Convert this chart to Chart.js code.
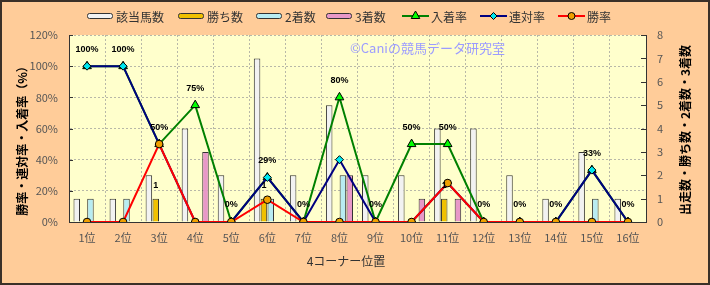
<!DOCTYPE html>
<html lang="ja">
<head>
<meta charset="utf-8">
<title>4コーナー位置別成績</title>
<script src="https://cdn.jsdelivr.net/npm/chart.js@4.4.0/dist/chart.umd.min.js"></script>
<style>
  html, body { margin: 0; padding: 0; background: #ffcc99; }
  #wrap { width: 710px; height: 285px; }
</style>
</head>
<body>
<div id="wrap"><canvas id="cornerChart" width="710" height="285"></canvas></div>
<script>
// Data
const positions = ["1位", "2位", "3位", "4位", "5位", "6位", "7位", "8位",
                   "9位", "10位", "11位", "12位", "13位", "14位", "15位", "16位"];
const runners = [1, 1, 2, 4, 2, 7, 2, 5, 2, 2, 4, 4, 2, 1, 3, 1];   // 該当馬数
const wins    = [0, 0, 1, 0, 0, 1, 0, 0, 0, 0, 1, 0, 0, 0, 0, 0];   // 勝ち数
const seconds = [1, 1, 0, 0, 0, 1, 0, 2, 0, 0, 0, 0, 0, 0, 1, 0];   // 2着数
const thirds  = [0, 0, 0, 3, 0, 0, 0, 2, 0, 1, 1, 0, 0, 0, 0, 0];   // 3着数
const placeRate = [100, 100, 50, 75, 0, 28.6, 0, 80, 0, 50, 50, 0, 0, 0, 33.3, 0];  // 入着率
const quinRate  = [100, 100, 50, 0, 0, 28.6, 0, 40, 0, 0, 25, 0, 0, 0, 33.3, 0];   // 連対率
const winRate   = [0, 0, 50, 0, 0, 14.3, 0, 0, 0, 0, 25, 0, 0, 0, 0, 0];           // 勝率
const rateTicks = [0, 20, 40, 60, 80, 100, 120];
const countTicks = [0, 1, 2, 3, 4, 5, 6, 7, 8];

const jpFont = "'Noto Sans CJK JP', 'Noto Sans', sans-serif";

// Colours
const runnerColor = "#f2f2f2";
const winColor = "#f0c000";
const secondColor = "#b8ecf2";
const thirdColor = "#e898c8";
const placeColor = "#008000";
const quinColor = "#000080";
const winLineColor = "#ff0000";

// Legend layout (x positions of each marker)
const legendItems = [
    { label: "該当馬数", kind: "box", color: runnerColor, x: 87 },
    { label: "勝ち数", kind: "box", color: winColor, x: 178 },
    { label: "2着数", kind: "box", color: secondColor, x: 256 },
    { label: "3着数", kind: "box", color: thirdColor, x: 326 },
    { label: "入着率", kind: "line", color: placeColor, point: "triangle", pointColor: "#00ff00", x: 402 },
    { label: "連対率", kind: "line", color: quinColor, point: "diamond", pointColor: "#00e8f0", x: 480 },
    { label: "勝率", kind: "line", color: winLineColor, point: "circle", pointColor: "#f0a000", x: 558 }
];

function drawMarker(ctx, type, x, y, fill) {
    ctx.save();
    ctx.fillStyle = fill;
    ctx.strokeStyle = "#000";
    ctx.lineWidth = 1;
    ctx.beginPath();
    if (type === "triangle") {
        ctx.moveTo(x, y - 5);
        ctx.lineTo(x + 4.3, y + 2.5);
        ctx.lineTo(x - 4.3, y + 2.5);
        ctx.closePath();
    } else if (type === "diamond") {
        ctx.moveTo(x, y - 3.5);
        ctx.lineTo(x + 3.5, y);
        ctx.lineTo(x, y + 3.5);
        ctx.lineTo(x - 3.5, y);
        ctx.closePath();
    } else {
        ctx.arc(x, y, 3.5, 0, Math.PI * 2);
    }
    ctx.fill();
    ctx.stroke();
    ctx.restore();
}

const decorPlugin = {
    id: "decor",
    beforeDraw(chart) {
        const { ctx, chartArea } = chart;
        ctx.save();
        ctx.fillStyle = "#ffcc99";
        ctx.fillRect(0, 0, chart.width, chart.height);
        ctx.fillStyle = "#ffffcc";
        ctx.fillRect(chartArea.left, chartArea.top, chartArea.right - chartArea.left, chartArea.bottom - chartArea.top);
        ctx.restore();
    },
    beforeDatasetsDraw(chart) {
        const { ctx } = chart;
        ctx.save();
        ctx.font = "13px " + jpFont;
        ctx.fillStyle = "#9c9cff";
        ctx.textAlign = "left";
        ctx.textBaseline = "middle";
        ctx.fillText("©Caniの競馬データ研究室", 350, 48);
        ctx.restore();
    },
    afterDatasetsDraw(chart) {
        const { ctx } = chart;
        ctx.save();
        ctx.fillStyle = "#000";
        ctx.textAlign = "center";
        ctx.textBaseline = "middle";
        ctx.font = "bold 9px 'Liberation Sans', Arial, sans-serif";
        // win count labels above the gold bars
        chart.getDatasetMeta(1).data.forEach((bar, i) => {
            if (wins[i] > 0) ctx.fillText(String(wins[i]), bar.x, bar.y - 13);
        });
        // place-rate labels above the green points
        chart.getDatasetMeta(4).data.forEach((pt, i) => {
            ctx.fillText(Math.round(placeRate[i]) + "%", pt.x, pt.y - 17);
        });
        ctx.restore();
    },
    afterDraw(chart) {
        const { ctx, chartArea } = chart;
        const yCount = chart.scales.yCount;
        const yRate = chart.scales.yRate;
        ctx.save();

        // small inward tick marks
        ctx.strokeStyle = "#333";
        ctx.lineWidth = 1;
        ctx.beginPath();
        countTicks.forEach(v => {
            const y = Math.round(yCount.getPixelForValue(v)) + 0.5;
            ctx.moveTo(chartArea.right - 5, y);
            ctx.lineTo(chartArea.right, y);
        });
        rateTicks.forEach(v => {
            const y = Math.round(yRate.getPixelForValue(v)) + 0.5;
            ctx.moveTo(chartArea.left, y);
            ctx.lineTo(chartArea.left + 4, y);
        });
        ctx.stroke();

        // legend
        ctx.font = "12px " + jpFont;
        ctx.textBaseline = "middle";
        ctx.textAlign = "left";
        const ly = 16;
        legendItems.forEach(item => {
            if (item.kind === "box") {
                ctx.fillStyle = item.color;
                ctx.strokeStyle = "#333";
                ctx.lineWidth = 1;
                ctx.beginPath();
                ctx.roundRect(item.x + 0.5, ly - 2.5, 25, 5, 2);
                ctx.fill();
                ctx.stroke();
            } else {
                ctx.strokeStyle = item.color;
                ctx.lineWidth = 2;
                ctx.beginPath();
                ctx.moveTo(item.x, ly);
                ctx.lineTo(item.x + 27, ly);
                ctx.stroke();
                drawMarker(ctx, item.point, item.x + 13.5, ly, item.pointColor);
            }
            ctx.fillStyle = "#333";
            ctx.fillText(item.label, item.x + 29, ly + 1);
        });

        // axis titles
        ctx.fillStyle = "#000";
        ctx.textAlign = "center";
        ctx.font = "bold 12px " + jpFont;
        ctx.save();
        ctx.translate(22, 138);
        ctx.rotate(-Math.PI / 2);
        ctx.fillText("勝率・連対率・入着率（%）", 0, 0);
        ctx.restore();
        ctx.save();
        ctx.translate(685, 130);
        ctx.rotate(-Math.PI / 2);
        ctx.fillText("出走数・勝ち数・2着数・3着数", 0, 0);
        ctx.restore();
        ctx.font = "12px " + jpFont;
        ctx.fillStyle = "#333";
        ctx.fillText("4コーナー位置", 346, 261);

        // outer frame
        ctx.strokeStyle = "#3a3028";
        ctx.lineWidth = 2;
        ctx.strokeRect(1, 1, chart.width - 2, chart.height - 2);
        ctx.restore();
    }
};

const ctx = document.getElementById("cornerChart").getContext("2d");
const cornerChart = new Chart(ctx, {
    type: "bar",
    data: {
        labels: positions,
        datasets: [
            { label: "該当馬数", data: runners, backgroundColor: runnerColor, borderColor: "#333", borderWidth: 1, yAxisID: "yCount", order: 10, barPercentage: 0.95, categoryPercentage: 0.76 },
            { label: "勝ち数", data: wins, backgroundColor: winColor, borderColor: "#333", borderWidth: 1, yAxisID: "yCount", order: 10, barPercentage: 0.95, categoryPercentage: 0.76 },
            { label: "2着数", data: seconds, backgroundColor: secondColor, borderColor: "#333", borderWidth: 1, yAxisID: "yCount", order: 10, barPercentage: 0.95, categoryPercentage: 0.76 },
            { label: "3着数", data: thirds, backgroundColor: thirdColor, borderColor: "#333", borderWidth: 1, yAxisID: "yCount", order: 10, barPercentage: 0.95, categoryPercentage: 0.76 },
            {
                type: "line", label: "入着率", data: placeRate, yAxisID: "yRate", order: 3,
                borderColor: placeColor, borderWidth: 2, tension: 0, fill: false,
                pointStyle: "triangle", pointRadius: 5, pointBackgroundColor: "#00ff00",
                pointBorderColor: "#000", pointBorderWidth: 1
            },
            {
                type: "line", label: "連対率", data: quinRate, yAxisID: "yRate", order: 2,
                borderColor: quinColor, borderWidth: 2, tension: 0, fill: false,
                pointStyle: "rectRot", pointRadius: 4, pointBackgroundColor: "#00e8f0",
                pointBorderColor: "#000", pointBorderWidth: 1
            },
            {
                type: "line", label: "勝率", data: winRate, yAxisID: "yRate", order: 1,
                borderColor: winLineColor, borderWidth: 2, tension: 0, fill: false,
                pointStyle: "circle", pointRadius: 3.8, pointBackgroundColor: "#f0a000",
                pointBorderColor: "#000", pointBorderWidth: 1
            }
        ]
    },
    options: {
        responsive: false,
        animation: false,
        layout: { padding: { top: 35, left: 0, right: 0, bottom: 0 } },
        scales: {
            x: {
                grid: { color: "#b8b8a8", offset: true, drawTicks: false },
                border: { color: "#333", width: 1, dash: [2, 2] },
                ticks: { color: "#555", font: { size: 11, family: jpFont }, padding: 9, maxRotation: 0 },
                afterFit: s => { s.height = 63; }
            },
            yRate: {
                position: "left",
                min: 0,
                max: 120,
                afterBuildTicks: s => { s.ticks = rateTicks.map(v => ({ value: v })); },
                ticks: { color: "#555", font: { size: 11, family: jpFont }, padding: 11, callback: v => v + "%" },
                grid: { color: "#b8b8a8", drawTicks: false },
                border: { color: "#333", width: 1, dash: [2, 2] },
                afterFit: s => { s.width = 69; }
            },
            yCount: {
                position: "right",
                min: 0,
                max: 8,
                afterBuildTicks: s => { s.ticks = countTicks.map(v => ({ value: v })); },
                ticks: { color: "#555", font: { size: 11, family: jpFont }, padding: 11 },
                grid: { drawOnChartArea: false, drawTicks: false },
                border: { color: "#333", width: 1 },
                afterFit: s => { s.width = 64; }
            }
        },
        plugins: {
            legend: { display: false },
            tooltip: { enabled: false }
        }
    },
    plugins: [decorPlugin]
});
</script>
</body>
</html>
